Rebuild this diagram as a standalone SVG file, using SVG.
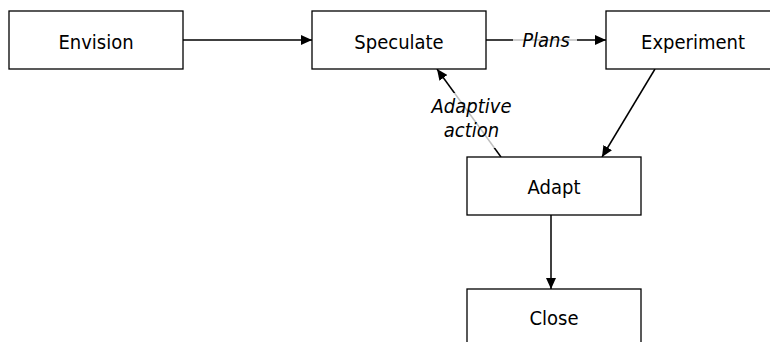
<svg xmlns="http://www.w3.org/2000/svg" width="770" height="342" viewBox="0 0 770 342">
  <style>
    .box { fill: #ffffff; stroke: #000000; stroke-width: 1.3; }
    .lbl { font-family: "DejaVu Sans Condensed", "DejaVu Sans", sans-serif; font-stretch: condensed; font-size: 20px; fill: #000000; text-anchor: middle; }
    .edge { fill: none; stroke: #000000; stroke-width: 1.5; }
    .elbl { font-family: "DejaVu Sans Condensed", "DejaVu Sans", sans-serif; font-stretch: condensed; font-style: italic; font-size: 20px; fill: #000000; text-anchor: middle; }
    .lblbg { fill: #ffffff; fill-opacity: 0.75; }
  </style>
  <defs>
    <marker id="arrow" markerWidth="12" markerHeight="10" refX="11" refY="5" orient="auto" markerUnits="userSpaceOnUse">
      <path d="M0,0 L11,5 L0,10 Z" fill="#000000"/>
    </marker>
  </defs>
  <rect width="770" height="342" fill="#ffffff"/>
  <g id="connectors">
    <line class="edge" x1="183" y1="40" x2="312" y2="40" marker-end="url(#arrow)"/>
    <line class="edge" x1="486" y1="40" x2="606" y2="40" marker-end="url(#arrow)"/>
    <line class="edge" x1="655" y1="69" x2="602" y2="157" marker-end="url(#arrow)"/>
    <line class="edge" x1="501" y1="157" x2="437" y2="69" marker-end="url(#arrow)"/>
    <line class="edge" x1="551" y1="215" x2="551" y2="289" marker-end="url(#arrow)"/>
    <rect class="lblbg" x="513" y="27" width="64" height="24"/>
    <text class="elbl" x="546" y="47">Plans</text>
    <rect class="lblbg" x="429" y="93" width="86" height="55"/>
    <text class="elbl" x="471.5" y="113">Adaptive</text>
    <text class="elbl" x="471.5" y="137">action</text>
  </g>
  <g id="envision">
    <rect class="box" x="9" y="11" width="174" height="58"/>
    <text class="lbl" x="96" y="49">Envision</text>
  </g>
  <g id="speculate">
    <rect class="box" x="312" y="11" width="174" height="58"/>
    <text class="lbl" x="399" y="49">Speculate</text>
  </g>
  <g id="experiment">
    <rect class="box" x="606" y="11" width="174" height="58"/>
    <text class="lbl" x="693" y="49">Experiment</text>
  </g>
  <g id="adapt">
    <rect class="box" x="467" y="157" width="174" height="58"/>
    <text class="lbl" x="554" y="194">Adapt</text>
  </g>
  <g id="close">
    <rect class="box" x="467" y="289" width="174" height="58"/>
    <text class="lbl" x="554" y="325">Close</text>
  </g>
</svg>
